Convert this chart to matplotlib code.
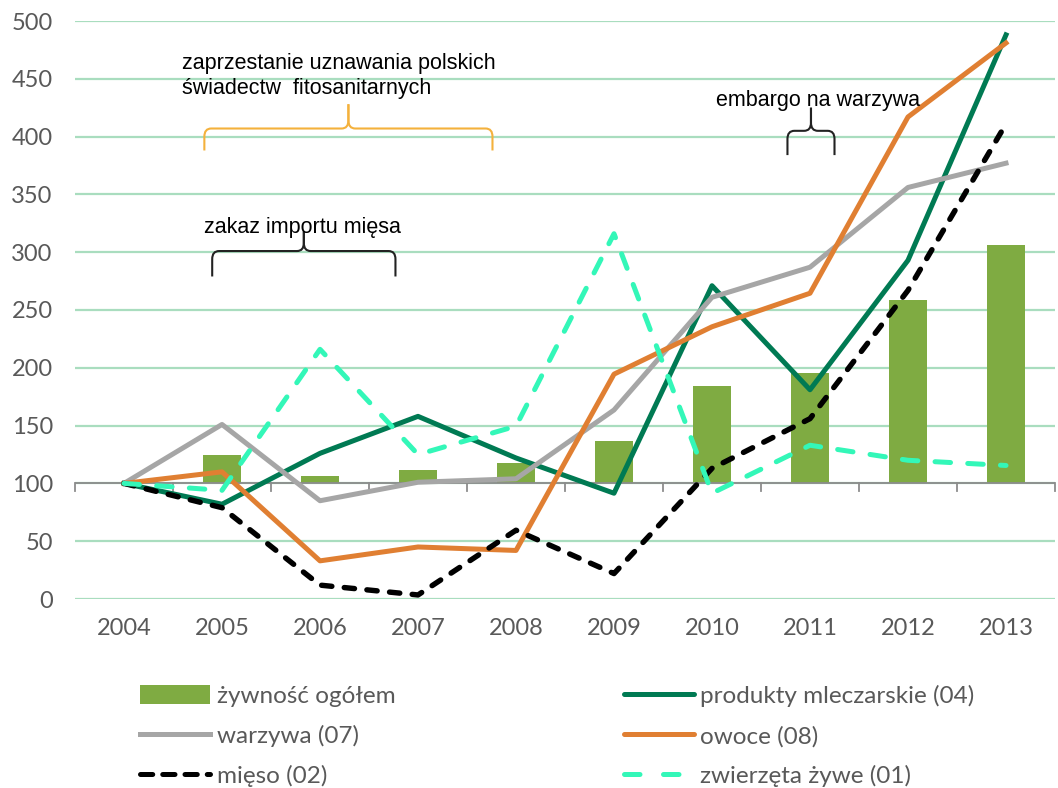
import matplotlib.pyplot as plt
import matplotlib.patches as mpatches
import matplotlib.lines as mlines
from matplotlib.path import Path

# data (index 2004 = 100)
years = ['2004', '2005', '2006', '2007', '2008', '2009', '2010', '2011', '2012', '2013']
zywnosc = [100, 124.5, 106.5, 111.5, 118, 137, 184, 195.5, 258.5, 306]
mleczarskie = [100, 82, 126, 158, 122, 91.5, 271, 181, 293, 488]
warzywa = [100, 151, 85, 101, 104, 163.5, 261, 287, 356, 377]
owoce = [100, 110, 33, 45, 42, 194.5, 235.5, 264.5, 417, 481]
mieso = [100, 79, 12, 3.5, 59.5, 22, 113, 156, 267, 411]
zwierzeta = [100, 94, 216, 125, 149.5, 316, 91.5, 133, 120, 115.5]

c_bar = '#7FAB42'
c_green = '#007A53'
c_gray = '#A6A6A6'
c_orange = '#E07F32'
c_cyan = '#33F7B8'
c_grid = '#A9DDBF'
c_text = '#595959'

lw = 3.6

fig = plt.figure(figsize=(10.58, 7.88), dpi=100)
ax = fig.add_axes([75 / 1058, 189 / 788, 980 / 1058, 578 / 788])

x = list(range(len(years)))

# bars start at the 100 baseline
ax.bar(x, [v - 100 for v in zywnosc], bottom=100, width=0.39, color=c_bar, zorder=2)

ax.plot(x, mleczarskie, color=c_green, lw=lw, zorder=4)
ax.plot(x, warzywa, color=c_gray, lw=lw, zorder=4)
ax.plot(x, owoce, color=c_orange, lw=lw, zorder=4)
ax.plot(x, mieso, color='black', lw=lw + 0.3, dashes=(1.9, 2.3), dash_capstyle='round', zorder=5)
ax.plot(x, zwierzeta, color=c_cyan, lw=lw, dashes=(3.1, 3.45), dash_capstyle='round', zorder=5)

ax.set_xlim(-0.5, len(years) - 0.5)
ax.set_ylim(0, 500)
ax.set_yticks(range(0, 501, 50))
ax.yaxis.grid(True, color=c_grid, lw=1.6, zorder=0)
ax.set_axisbelow(True)
for s in ax.spines.values():
    s.set_visible(False)

# category axis drawn at 100
ax.axhline(100, color='#8C8C8C', lw=1.3, zorder=3)
for b in range(len(years) + 1):
    ax.plot([b - 0.5, b - 0.5], [100, 93], color='#8C8C8C', lw=1.3, zorder=3, clip_on=False)

ax.set_xticks(x)
ax.set_xticklabels(years)
ax.tick_params(axis='both', length=0, labelsize=17, labelcolor=c_text)
ax.tick_params(axis='y', pad=16)
ax.tick_params(axis='x', pad=14)
for t in ax.get_xticklabels() + ax.get_yticklabels():
    t.set_fontfamily('Lato')


# curly brace from x0 to x1, horizontal at y, ends down to yend, tip up to ytip
def brace(ax, x0, x1, y, yend, ytip, color, dx=0.07, dy=7):
    xm = (x0 + x1) / 2
    codes = [Path.MOVETO, Path.LINETO, Path.CURVE3, Path.CURVE3,
             Path.LINETO, Path.CURVE3, Path.CURVE3, Path.LINETO]
    for xe, sgn in ((x0, 1), (x1, -1)):
        verts = [(xe, yend), (xe, y - dy), (xe, y), (xe + sgn * dx, y),
                 (xm - sgn * dx, y), (xm, y), (xm, y + dy), (xm, ytip)]
        ax.add_patch(mpatches.PathPatch(Path(verts, codes), fill=False, edgecolor=color,
                                        lw=1.5, zorder=6))


brace(ax, 0.82, 3.76, 407, 388, 428, '#F4B13C')
brace(ax, 0.90, 2.77, 301, 279, 318, '#222222')
brace(ax, 6.77, 7.25, 405, 384, 425, '#222222')

afont = dict(family='Liberation Sans', fontsize=15.5, color='black', zorder=7)
ax.text(0.59, 472, 'zaprzestanie uznawania polskich\nświadectw  fitosanitarnych',
        ha='left', va='top', linespacing=1.22, **afont)
ax.text(0.82, 321, 'zakaz importu mięsa', ha='left', va='center', **afont)
ax.text(6.04, 431, 'embargo na warzywa', ha='left', va='center', **afont)

handles = [mpatches.Rectangle((0, 0), 1, 1, facecolor=c_bar),
           mlines.Line2D([], [], color=c_gray, lw=lw),
           mlines.Line2D([], [], color='black', lw=lw, dashes=(2.45, 2.0), dash_capstyle='round'),
           mlines.Line2D([], [], color=c_green, lw=lw, solid_capstyle='round'),
           mlines.Line2D([], [], color=c_orange, lw=lw, solid_capstyle='round'),
           mlines.Line2D([], [], color=c_cyan, lw=lw, dashes=(3.1, 4.7), dash_capstyle='round')]
labels = ['żywność ogółem', 'warzywa (07)', 'mięso (02)',
          'produkty mleczarskie (04)', 'owoce (08)', 'zwierzęta żywe (01)']
leg = fig.legend(handles, labels, ncol=2, loc='upper left', bbox_to_anchor=(140 / 1058, 1 - 685 / 788),
                 frameon=False, prop={'family': 'Lato', 'size': 17.5}, labelcolor=c_text,
                 handlelength=2.9, handleheight=0.85, handletextpad=0.25, columnspacing=9.4,
                 labelspacing=0.74, borderaxespad=0, borderpad=0)

fig.savefig('out.png', dpi=100)
